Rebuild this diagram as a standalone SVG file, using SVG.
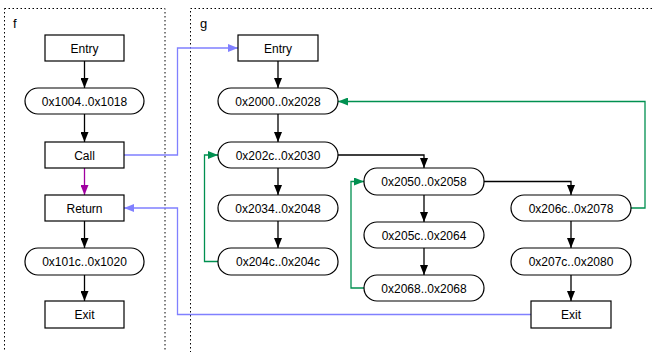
<svg xmlns="http://www.w3.org/2000/svg" width="654" height="352" viewBox="0 0 654 352">
<defs>
<style>
.cl{fill:none;stroke:#000;stroke-width:1;stroke-dasharray:1.5,2.5}
.nd{fill:#fff;stroke:#000;stroke-width:1.2}
.t{font-family:"Liberation Sans",Arial,sans-serif;font-size:12px;fill:#000;text-anchor:middle}
.lb{font-family:"Liberation Sans",Arial,sans-serif;font-size:13px;fill:#000}
.e{fill:none;stroke-width:1.3}
.k{stroke:#000}
.b{stroke:#8080ff}
.g{stroke:#009050}
.p{stroke:#a000a0}
</style>
<marker id="ak" viewBox="0 0 10 8" refX="10" refY="4" markerWidth="10" markerHeight="8" markerUnits="userSpaceOnUse" orient="auto"><path d="M0,0L10,4L0,8Z" fill="#000"/></marker>
<marker id="ab" viewBox="0 0 10 8" refX="10" refY="4" markerWidth="10" markerHeight="8" markerUnits="userSpaceOnUse" orient="auto"><path d="M0,0L10,4L0,8Z" fill="#8080ff"/></marker>
<marker id="ag" viewBox="0 0 10 8" refX="10" refY="4" markerWidth="10" markerHeight="8" markerUnits="userSpaceOnUse" orient="auto"><path d="M0,0L10,4L0,8Z" fill="#009050"/></marker>
<marker id="ap" viewBox="0 0 10 8" refX="10" refY="4" markerWidth="10" markerHeight="8" markerUnits="userSpaceOnUse" orient="auto"><path d="M0,0L10,4L0,8Z" fill="#a000a0"/></marker>
</defs>
<rect width="654" height="352" fill="#fff"/>
<g id="cluster-f"><rect class="cl" x="4.5" y="8.5" width="160.5" height="360"/><text class="lb" x="13" y="28">f</text></g>
<g id="cluster-g"><rect class="cl" x="190.5" y="8.5" width="480" height="360"/><text class="lb" x="200" y="28">g</text></g>
<g id="connectors">
<path class="e k" d="M84.5,61V88" marker-end="url(#ak)"/>
<path class="e k" d="M84.5,114V142" marker-end="url(#ak)"/>
<path class="e p" d="M84.5,168V195" marker-end="url(#ap)"/>
<path class="e k" d="M84.5,221V248" marker-end="url(#ak)"/>
<path class="e k" d="M84.5,275V301" marker-end="url(#ak)"/>
<path class="e b" d="M124,155H177.5V48H238" marker-end="url(#ab)"/>
<path class="e b" d="M531,314.5H177.5V208H124" marker-end="url(#ab)"/>
<path class="e k" d="M278,61V88" marker-end="url(#ak)"/>
<path class="e k" d="M278,114V142" marker-end="url(#ak)"/>
<path class="e k" d="M278,168V195" marker-end="url(#ak)"/>
<path class="e k" d="M278,221V248" marker-end="url(#ak)"/>
<path class="e g" d="M218,261.5H204.5V155H218" marker-end="url(#ag)"/>
<path class="e k" d="M338,155H424V168" marker-end="url(#ak)"/>
<path class="e k" d="M424,195V222" marker-end="url(#ak)"/>
<path class="e k" d="M424,248V275" marker-end="url(#ak)"/>
<path class="e g" d="M364,288H351V181.5H364" marker-end="url(#ag)"/>
<path class="e k" d="M484,181.5H571V195" marker-end="url(#ak)"/>
<path class="e k" d="M571,221V248" marker-end="url(#ak)"/>
<path class="e k" d="M571,275V301" marker-end="url(#ak)"/>
<path class="e g" d="M631,208H645V101.5H338" marker-end="url(#ag)"/>
</g>
<g id="f-entry"><rect class="nd" x="45" y="35" width="79" height="26"/><text class="t" x="84.5" y="52.5">Entry</text></g>
<g id="f-1004"><rect class="nd" x="25" y="88" width="119" height="26" rx="13"/><text class="t" x="84.5" y="105.5">0x1004..0x1018</text></g>
<g id="f-call"><rect class="nd" x="45" y="142" width="79" height="26"/><text class="t" x="84.5" y="159.5">Call</text></g>
<g id="f-return"><rect class="nd" x="45" y="195" width="79" height="26"/><text class="t" x="84.5" y="212.5">Return</text></g>
<g id="f-101c"><rect class="nd" x="25" y="248" width="119" height="27" rx="13"/><text class="t" x="84.5" y="266">0x101c..0x1020</text></g>
<g id="f-exit"><rect class="nd" x="45" y="301" width="79" height="27"/><text class="t" x="84.5" y="319">Exit</text></g>
<g id="g-entry"><rect class="nd" x="238" y="35" width="80" height="26"/><text class="t" x="278" y="52.5">Entry</text></g>
<g id="g-2000"><rect class="nd" x="218" y="88" width="120" height="26" rx="13"/><text class="t" x="278" y="105.5">0x2000..0x2028</text></g>
<g id="g-202c"><rect class="nd" x="218" y="142" width="120" height="26" rx="13"/><text class="t" x="278" y="159.5">0x202c..0x2030</text></g>
<g id="g-2034"><rect class="nd" x="218" y="195" width="120" height="26" rx="13"/><text class="t" x="278" y="212.5">0x2034..0x2048</text></g>
<g id="g-204c"><rect class="nd" x="218" y="248" width="120" height="27" rx="13"/><text class="t" x="278" y="266">0x204c..0x204c</text></g>
<g id="g-2050"><rect class="nd" x="364" y="168" width="120" height="27" rx="13"/><text class="t" x="424" y="186">0x2050..0x2058</text></g>
<g id="g-205c"><rect class="nd" x="364" y="222" width="120" height="26" rx="13"/><text class="t" x="424" y="239.5">0x205c..0x2064</text></g>
<g id="g-2068"><rect class="nd" x="364" y="275" width="120" height="26" rx="13"/><text class="t" x="424" y="292.5">0x2068..0x2068</text></g>
<g id="g-206c"><rect class="nd" x="511" y="195" width="120" height="26" rx="13"/><text class="t" x="571" y="212.5">0x206c..0x2078</text></g>
<g id="g-207c"><rect class="nd" x="511" y="248" width="120" height="27" rx="13"/><text class="t" x="571" y="266">0x207c..0x2080</text></g>
<g id="g-exit"><rect class="nd" x="531" y="301" width="80" height="27"/><text class="t" x="571" y="319">Exit</text></g>
</svg>
